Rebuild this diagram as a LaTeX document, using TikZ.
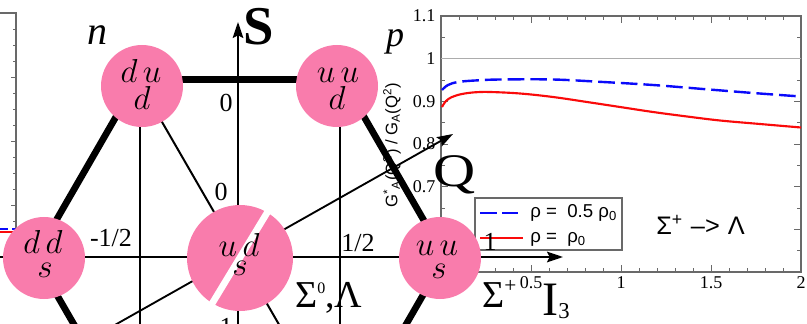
\documentclass[tikz,border=0pt]{standalone}
\usepackage{fontspec}
\newfontfamily\tnr{Liberation Serif}
\newfontfamily\hv{Liberation Sans}
\usetikzlibrary{arrows.meta}
\definecolor{quarkpink}{RGB}{249,124,172}
\definecolor{axisgray}{RGB}{105,105,105}
\definecolor{plotblue}{RGB}{10,10,250}
\definecolor{plotred}{RGB}{250,10,10}
\tikzset{
  quark/.style={circle, fill=quarkpink, draw=none, inner sep=0pt, minimum size=61.5pt},
  bigquark/.style={quark, minimum size=79.5pt},
  qtxt/.style={inner sep=0pt, anchor=base, font=\fontsize{25}{25}\selectfont},
  thinln/.style={line width=1.5pt},
  thickln/.style={line width=5pt},
  axisarrow/.style={line width=1.4pt, -{Stealth[length=12pt,width=8pt,inset=2pt]}},
  hexlbl/.style={inner sep=0pt, font=\tnr\fontsize{19.5}{19.5}\selectfont},
  ticklbl/.style={inner sep=1pt, font=\tnr\fontsize{13.5}{13.5}\selectfont},
  legtxt/.style={inner sep=0pt, anchor=base west, font=\hv\fontsize{14}{14}\selectfont},
  frameln/.style={axisgray, line width=0.8pt},
  tickln/.style={axisgray, line width=0.6pt},
}
\begin{document}
\begin{tikzpicture}[x=0.75pt,y=-0.75pt]
\useasboundingbox (0,0) rectangle (807,324);
\clip (0,0) rectangle (807,324);

% ---------- left plot fragment ----------
\draw[frameln] (0,13) -- (16,13) -- (16,228);
\foreach \k in {1,...,13}{
  \pgfmathsetmacro\len{mod(\k,4)==0 ? 5 : 3}
  \draw[tickln] (16,{13+16*\k}) -- ++(-\len,0);
}
\draw[plotblue, line width=1.6pt, dash pattern=on 6pt off 3pt] (0,229) -- (16,229);
\draw[plotred, line width=1.6pt] (0,232) -- (13,232);

% ---------- right plot ----------
\draw[frameln] (441,16) rectangle (801,272);
\foreach \i in {1,...,19}{
  \pgfmathsetmacro\len{mod(\i,5)==0 ? 7 : 4}
  \draw[tickln] ({441+18*\i},272) -- ++(0,-\len);
  \draw[tickln] ({441+18*\i},16) -- ++(0,\len);
}
\foreach \k in {1,...,11}{
  \pgfmathsetmacro\len{mod(\k,2)==0 ? 7 : 4}
  \draw[tickln] (441,{16+21.333*\k}) -- ++(\len,0);
  \draw[tickln] (801,{16+21.333*\k}) -- ++(-\len,0);
}
\draw[gray!65, line width=1.2pt] (441,58.7) -- (801,58.7);
\draw[plotblue, line width=1.8pt, dash pattern=on 12.5pt off 4.5pt]
  plot[smooth, tension=0.6] coordinates {(442,90) (448,85) (458,82) (475,80.5) (500,79.5) (553,79.5) (603,82) (653,85) (703,89) (753,93) (801,96.5)};
\draw[plotred, line width=1.6pt]
  plot[smooth, tension=0.6] coordinates {(442,107) (446,101) (452,97) (462,94) (475,92.3) (490,92) (520,93.5) (553,97) (587,102) (620,107) (653,112) (687,116.5) (720,120.5) (760,124) (801,127.5)};

% y tick labels
\node[ticklbl, anchor=east] (y11) at (437,16) {1.1};
\node[ticklbl, anchor=east] (y10) at (437,58.7) {1};
\node[ticklbl, anchor=east] (y09) at (437,101.3) {0.9};
\node[ticklbl, anchor=east] (y08) at (437,144) {0.8};
\node[ticklbl, anchor=east] (y07) at (437,186.7) {0.7};
% x tick labels
\node[ticklbl, anchor=north] (x05) at (531,275) {0.5};
\node[ticklbl, anchor=north] (x10) at (621,275) {1};
\node[ticklbl, anchor=north] (x15) at (711,275) {1.5};
\node[ticklbl, anchor=north] (x20) at (801,275) {2};
% axis label
\node[rotate=90, inner sep=0pt, font=\hv\fontsize{12.5}{12.5}\selectfont] (ylab) at (392,145)
  {G\textsuperscript{*}\textsubscript{A}(Q\textsuperscript{2}) / G\textsubscript{A}(Q\textsuperscript{2})};
% legend
\draw[axisgray, line width=0.8pt, fill=white] (475,198) rectangle (622,250);
\draw[plotblue, line width=1.6pt, dash pattern=on 12.5pt off 4pt] (480,213) -- (518,213);
\draw[plotred, line width=1.6pt] (480,238) -- (523,238);
\node[legtxt] (leg1) at (530,218) {ρ =\ \ 0.5 ρ\textsubscript{0}};
\node[legtxt] (leg2) at (530,243) {ρ =\ \ ρ\textsubscript{0}};
\node[inner sep=0pt, anchor=base west, font=\hv\fontsize{19}{19}\selectfont] (react) at (656,234)
  {Σ\textsuperscript{+}\hspace{6pt}–>\hspace{6pt}Λ};

% ---------- hexagon ----------
\coordinate (vN) at (137.5,79.5);
\coordinate (vP) at (342.5,79.5);
\coordinate (vDS) at (35,257);
\coordinate (vUS) at (445,257);
\coordinate (vBL) at (137.5,434.5);
\coordinate (vBR) at (342.5,434.5);
\coordinate (nTop) at (140,80);
\coordinate (nBot) at (140,330);
\coordinate (pTop) at (340,80);
\coordinate (pBot) at (340,330);
\coordinate (iStart) at (0,257);
\coordinate (iTip) at (563,257);
\coordinate (sBot) at (238,330);
\coordinate (sTip) at (238,22);
\coordinate (qTail) at (60,356);
\coordinate (qTip) at (453,134);

\draw[thinln] (nTop) -- (nBot);
\draw[thinln] (pTop) -- (pBot);
\draw[thinln] (vN) -- (vBR);
\draw[axisarrow] (iStart) -- (iTip);
\draw[axisarrow] (sBot) -- (sTip);
\draw[axisarrow] (qTail) -- (qTip);
\draw[thickln, line join=round] (vDS) -- (vN) -- (vP) -- (vUS);
\draw[thickln] (vDS) -- (vBL);
\draw[thickln] (vUS) -- (vBR);

% quark circles
\node[quark] (n) at (142,86) {};
\node[quark] (p) at (337,86) {};
\node[quark] (ds) at (44,258) {};
\node[quark] (us) at (440,258) {};
\node[bigquark] (ud) at (240,258) {};
\coordinate (stripeA) at (273,203);
\coordinate (stripeB) at (210,307);
\draw[white, line width=5pt] (stripeA) -- (stripeB);

\node[qtxt] (nA) at (141,83) {$d\,u$};
\node[qtxt] (nB) at (142,110) {$d$};
\node[qtxt] (pA) at (338,83) {$u\,u$};
\node[qtxt] (pB) at (337,110) {$d$};
\node[qtxt] (dsA) at (43,253) {$d\,d$};
\node[qtxt] (dsB) at (45,277) {$s$};
\node[qtxt] (udA) at (239,257) {$u\,d$};
\node[qtxt] (udB) at (240,276) {$s$};
\node[qtxt] (usA) at (437,255) {$u\,u$};
\node[qtxt] (usB) at (439,278) {$s$};

% labels
\node[inner sep=0pt, anchor=base, font=\tnr\itshape\fontsize{30}{30}\selectfont] (nlab) at (97,45) {n};
\node[inner sep=0pt, anchor=base, font=\tnr\itshape\fontsize{27}{27}\selectfont] (plab) at (395,47) {p};
\node[inner sep=0pt, anchor=base west, font=\tnr\bfseries\fontsize{41}{41}\selectfont] (Slab) at (243,45) {S};
\node[inner sep=0pt, anchor=base west, font=\tnr\fontsize{35}{35}\selectfont] (Qlab) at (433,187) {\scalebox{1.25}[1]{Q}};
\node[inner sep=0pt, anchor=base west, font=\tnr\fontsize{36}{36}\selectfont] (Ilab) at (542,315) {I};
\node[inner sep=0pt, anchor=base west, font=\tnr\fontsize{17}{17}\selectfont] (Isub) at (558,318) {3};
\node[inner sep=0pt, anchor=base west, font=\tnr\fontsize{28.5}{28.5}\selectfont] (sigp) at (482,307)
  {Σ\raisebox{11pt}{\fontsize{16}{16}\selectfont +}};
\node[inner sep=0pt, anchor=base west, font=\tnr\fontsize{28.5}{28.5}\selectfont] (sig0) at (295,307)
  {Σ\raisebox{10.5pt}{\fontsize{12}{12}\selectfont 0},Λ};
\node[hexlbl] (zeroA) at (226,103) {0};
\node[hexlbl] (zeroB) at (221,192) {0};
\node[hexlbl, anchor=base] (mhalf) at (111,247) {-1/2};
\node[hexlbl, anchor=base] (phalf) at (358,252) {1/2};
\node[hexlbl, anchor=base] (oneR) at (490,250) {1};
\node[hexlbl, anchor=base] (oneB) at (226,335) {1};
\end{tikzpicture}
\end{document}
